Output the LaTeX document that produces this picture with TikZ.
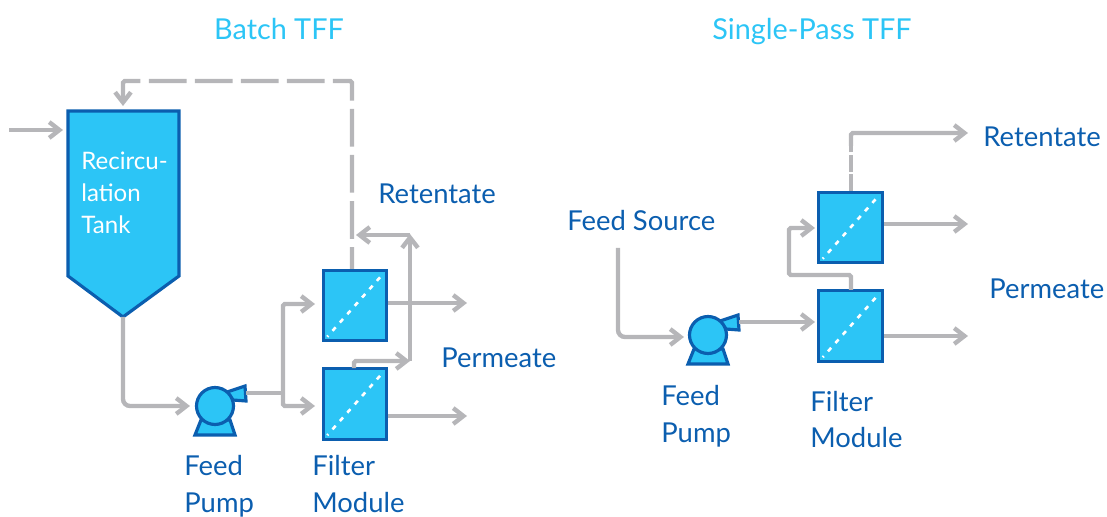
\documentclass[tikz,border=0pt]{standalone}
\usepackage{fontspec}
\setmainfont{Lato}
\usetikzlibrary{arrows.meta}
\definecolor{sky}{HTML}{2CC5F6}
\definecolor{deepblue}{HTML}{0B5EAF}
\definecolor{pipegrey}{HTML}{B6B6B9}
\tikzset{
  pipe/.style={draw=pipegrey,line width=2.5pt,rounded corners=1pt},
  flow/.style={pipe,-{Straight Barb[length=5.8pt,width=9pt]},shorten >=0.1cm},
  softbend/.style={rounded corners=4pt},
  recycle/.style={pipe,dash pattern=on 21.5pt off 4.7pt,dash phase=9pt},
  unit/.style={draw=deepblue,fill=sky,line width=1.8pt,line join=miter},
  module/.style={unit,rectangle,minimum width=1.27cm,minimum height=1.41cm,inner sep=0pt,
    path picture={
      \draw[white,line width=1.5pt,dash pattern=on 2.7pt off 3.64pt,dash phase=1.85pt]
        ([shift={(0.08cm,0.08cm)}]path picture bounding box.south west) --
        ([shift={(-0.08cm,-0.08cm)}]path picture bounding box.north east);
    }},
  label/.style={text=deepblue,anchor=west,align=left,inner sep=0pt,
    font=\fontsize{15.6pt}{20.8pt}\selectfont},
  title/.style={text=sky,anchor=base,inner sep=0pt,font=\fontsize{16.4pt}{20pt}\selectfont},
  feedpump/.pic={
    \draw[unit] (-20,29) -- (20,29) -- (15,14) -- (-14,14) -- cycle;
    \draw[unit] (12,-14) -- (30,-20) -- (31,-5) -- (18,-6) -- cycle;
    \node[unit,circle,minimum size=0.74cm,inner sep=0pt] (-body) at (0,0) {};
    \coordinate (-out) at (31,-13);
  }
}
\begin{document}
\begin{tikzpicture}[x=0.02cm,y=-0.02cm]
  \useasboundingbox (0,0) rectangle (1107,517);
  % batch side
  \coordinate (tanktop) at (123,111);
  \coordinate (tankwest) at (68,130);
  \coordinate (tankbottom) at (123,317);
  \coordinate (feedin) at (9,130);
  \coordinate (pumpain) at (195,406);
  \coordinate (joina) at (283,393);
  \coordinate (moda-in) at (320,304);
  \coordinate (modb-in) at (320,406);
  \coordinate (moda-top) at (352,269);
  \coordinate (modb-top) at (354,368);
  \coordinate (moda-out) at (388,303);
  \coordinate (modb-out) at (388,416);
  \coordinate (moda-end) at (472,303);
  \coordinate (modb-end) at (472,416);
  \coordinate (risefoot) at (415,361);
  \coordinate (risebase) at (410,361);
  \coordinate (risetop) at (410,229);
  \coordinate (backend) at (351,235);
  \coordinate (backstart) at (410,235);
  \coordinate (loopcorner) at (352,81);
  \draw[unit] (68,111) -- (179,111) -- (179,276) -- (123,317) -- (68,276) -- cycle;
  \pic (pumpa) at (215,406) {feedpump};
  \node[module] (moda) at (355,305.5) {};
  \node[module] (modb) at (355,404) {};
  \node[label,text=white,font=\fontsize{13.7pt}{18.1pt}\selectfont] (tanklabel) at (81,193) {Recircu-\\lation\\Tank};
  \node[title] (batchtitle) at (279,40) {Batch TFF};
  \node[label] (retentatea) at (378,194) {Retentate};
  \node[label] (permeatea) at (441,358) {Permeate};
  \node[label] (pumpalabel) at (184,486) {Feed\\Pump};
  \node[label] (modalabel) at (312,484) {Filter\\Module};
  \draw[flow] (feedin) -- (tankwest);
  \draw[flow,softbend] (tankbottom) |- (pumpain);
  \draw[pipe] (pumpa-out) -- (joina);
  \draw[flow] (joina) |- (moda-in);
  \draw[flow] (joina) |- (modb-in);
  \draw[flow] (moda-out) -- (moda-end);
  \draw[flow] (modb-out) -- (modb-end);
  \draw[flow] (modb-top) |- (risefoot);
  \draw[flow] (risebase) -- (risetop);
  \draw[flow] (backstart) -- (backend);
  \draw[recycle] (moda-top) -- (loopcorner) -- (tanktop |- loopcorner) -- ([yshift=0.1cm]tanktop);
  % the tip of the loop, drawn solid
  \coordinate (looptip) at (123,98);
  \draw[flow] (looptip) -- (tanktop);
  % single-pass side
  \coordinate (sourcefoot) at (618,248);
  \coordinate (pumpbin) at (689,337);
  \coordinate (modc-in) at (820,228);
  \coordinate (modd-in) at (820,322);
  \coordinate (modc-top) at (851,191);
  \coordinate (modd-top) at (851,290);
  \coordinate (modc-out) at (884,224);
  \coordinate (modd-out) at (884,336);
  \coordinate (modc-end) at (973,224);
  \coordinate (modd-end) at (973,336);
  \coordinate (crossover) at (789,275);
  \coordinate (retend) at (973,133);
  \coordinate (retdash) at (851,146);
  \pic (pumpb) at (708,335) {feedpump};
  \node[module] (modc) at (850.5,227.5) {};
  \node[module] (modd) at (850.5,326) {};
  \node[title] (singletitle) at (812,40) {Single-Pass TFF};
  \node[label] (source) at (567,221) {Feed Source};
  \node[label] (retentateb) at (983,137) {Retentate};
  \node[label] (permeateb) at (989,289) {Permeate};
  \node[label] (pumpblabel) at (661,416.5) {Feed\\Pump};
  \node[label] (modclabel) at (810,419.5) {Filter\\Module};
  \draw[flow,softbend] (sourcefoot) |- (pumpbin);
  \draw[flow] (pumpb-out) -- (modd-in);
  \draw[flow] (modd-top) |- (crossover) |- (modc-in);
  \draw[flow] (modc-out) -- (modc-end);
  \draw[flow] (modd-out) -- (modd-end);
  \draw[pipe,dash pattern=on 9.5pt off 1.5pt] (modc-top) -- (retdash);
  \draw[flow] (retdash) |- (retend);
\end{tikzpicture}
\end{document}
